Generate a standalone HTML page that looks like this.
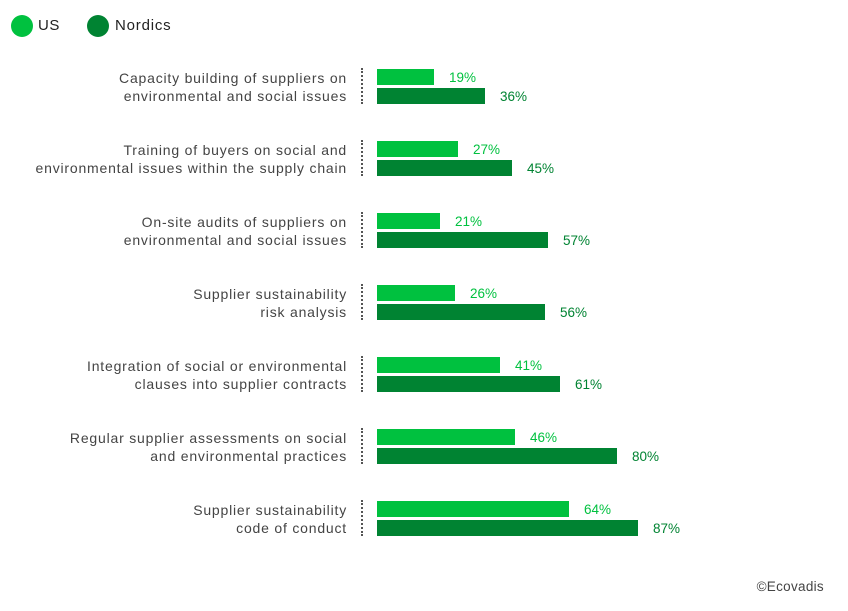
<!DOCTYPE html>
<html><head><style>
body{margin:0;width:848px;height:611px;background:#fff;font-family:"Liberation Sans",sans-serif;position:relative;overflow:hidden}
.a{position:absolute}
.lab{position:absolute;right:501px;text-align:right;font-size:14px;letter-spacing:0.8px;line-height:17.5px;color:#444;white-space:nowrap}
.dot{position:absolute;left:361px;width:0;border-left:2px dotted #555;height:36px}
.b{position:absolute;left:377px;height:16px}
.us{background:#00c13f}.no{background:#008332}
.v{position:absolute;font-size:13.5px;line-height:16px}
.vu{color:#00c13f}.vn{color:#008332}
</style></head><body>
<div class="a" style="left:11px;top:15px;width:22px;height:22px;border-radius:50%;background:#00c13f"></div>
<div class="a" style="left:38px;top:17px;font-size:15px;letter-spacing:0.6px;color:#222">US</div>
<div class="a" style="left:87px;top:15px;width:22px;height:22px;border-radius:50%;background:#008332"></div>
<div class="a" style="left:115px;top:17px;font-size:15px;letter-spacing:0.8px;color:#222">Nordics</div>
<div id="c"></div>
<div class="a" style="right:24px;top:579px;font-size:13.5px;letter-spacing:0.3px;color:#444">©Ecovadis</div>
<script>
var d=[["Capacity building of suppliers on","environmental and social issues",19,36],
["Training of buyers on social and","environmental issues within the supply chain",27,45],
["On-site audits of suppliers on","environmental and social issues",21,57],
["Supplier sustainability","risk analysis",26,56],
["Integration of social or environmental","clauses into supplier contracts",41,61],
["Regular supplier assessments on social","and environmental practices",46,80],
["Supplier sustainability","code of conduct",64,87]];
var h="";
d.forEach(function(r,i){var y=69+72*i;
h+='<div class="lab" style="top:'+(y+1)+'px">'+r[0]+'<br>'+r[1]+'</div>';
h+='<div class="dot" style="top:'+(y-1)+'px"></div>';
h+='<div class="b us" style="top:'+y+'px;width:'+(r[2]*3)+'px"></div>';
h+='<div class="b no" style="top:'+(y+19)+'px;width:'+(r[3]*3)+'px"></div>';
h+='<div class="v vu" style="top:'+(y+1)+'px;left:'+(377+r[2]*3+15)+'px">'+r[2]+'%</div>';
h+='<div class="v vn" style="top:'+(y+20)+'px;left:'+(377+r[3]*3+15)+'px">'+r[3]+'%</div>';});
document.getElementById("c").innerHTML=h;
</script>
</body></html>
